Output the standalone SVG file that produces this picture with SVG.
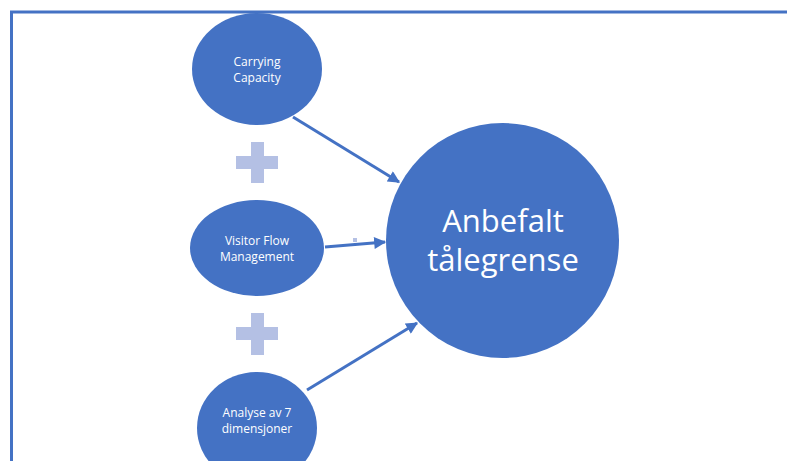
<svg xmlns="http://www.w3.org/2000/svg" width="787" height="461" viewBox="0 0 787 461">
  <style>
    .node { fill: #4472C4; }
    .label { fill: #ffffff; font-family: "Open Sans", "Noto Sans", sans-serif; text-anchor: middle; }
    .small { font-size: 12px; }
    .big { font-size: 31px; }
    .link { stroke: #4472C4; stroke-width: 3; fill: none; marker-end: url(#head); }
    .plus { fill: #B4C0E4; }
  </style>
  <defs>
    <marker id="head" viewBox="0 0 10 10" refX="9" refY="5" markerWidth="4.2" markerHeight="4" orient="auto" markerUnits="strokeWidth">
      <path d="M0,0 L10,5 L0,10 Z" fill="#4472C4"/>
    </marker>
  </defs>

  <rect width="787" height="461" fill="#ffffff"/>
  <!-- frame -->
  <path d="M11.5,470 L11.5,12 L800,12" fill="none" stroke="#4472C4" stroke-width="3"/>

  <!-- plus signs -->
  <g id="plus-1">
    <rect class="plus" x="236" y="156" width="42" height="13"/>
    <rect class="plus" x="251" y="142" width="13" height="41"/>
  </g>
  <g id="plus-2">
    <rect class="plus" x="236" y="327" width="42" height="13"/>
    <rect class="plus" x="251" y="313" width="13" height="42"/>
  </g>
  <rect x="353" y="238" width="4" height="4" fill="#B4C0E4"/>

  <!-- connectors -->
  <g id="connectors">
    <line class="link" x1="293" y1="117" x2="399" y2="182"/>
    <line class="link" x1="325" y1="247" x2="385" y2="242"/>
    <line class="link" x1="307" y1="390" x2="417" y2="323"/>
  </g>

  <g id="carrying-capacity">
    <ellipse class="node" cx="257" cy="69" rx="65" ry="56"/>
    <text class="label small" x="257" y="66">Carrying</text>
    <text class="label small" x="257" y="82">Capacity</text>
  </g>

  <g id="visitor-flow">
    <ellipse class="node" cx="257" cy="248" rx="67" ry="48"/>
    <text class="label small" x="257" y="245">Visitor Flow</text>
    <text class="label small" x="257" y="261">Management</text>
  </g>

  <g id="analyse">
    <ellipse class="node" cx="257" cy="428" rx="60" ry="56"/>
    <text class="label small" x="257" y="417">Analyse av 7</text>
    <text class="label small" x="257" y="433">dimensjoner</text>
  </g>

  <g id="anbefalt">
    <ellipse class="node" cx="502.5" cy="240.5" rx="116.5" ry="117.5"/>
    <text class="label big" x="503" y="232">Anbefalt</text>
    <text class="label big" x="503" y="271">tålegrense</text>
  </g>
</svg>
